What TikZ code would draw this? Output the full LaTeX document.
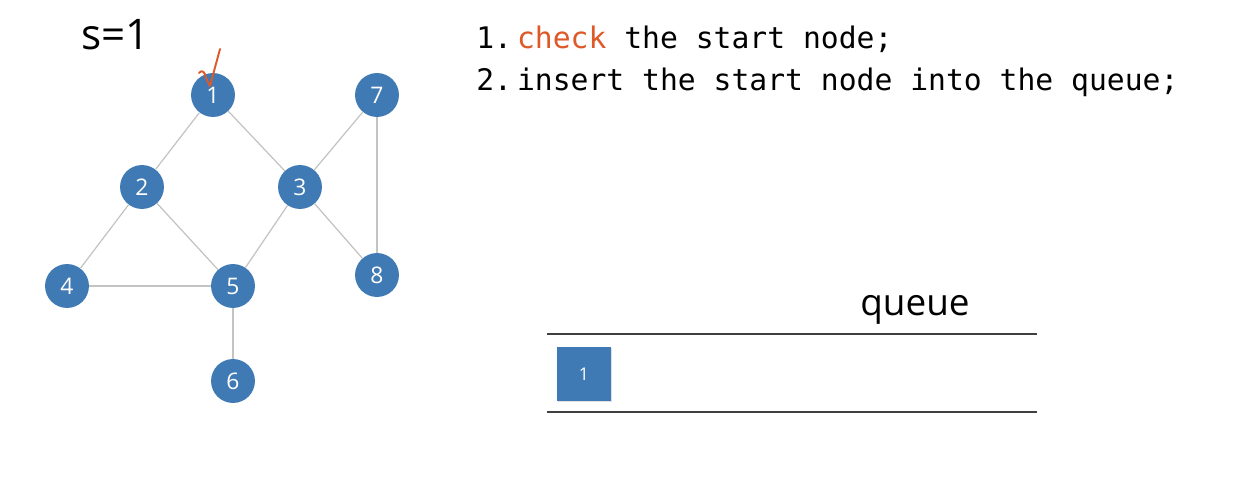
\documentclass[tikz,border=0pt]{standalone}
\usepackage{fontspec}
\setmainfont{Open Sans}
\setmonofont{DejaVu Sans Mono}
\usepackage{tikz}
\usetikzlibrary{positioning,shadows}

\definecolor{nodeblue}{RGB}{63,122,181}
\definecolor{edgegray}{RGB}{195,195,195}
\definecolor{checkred}{RGB}{222,88,40}

\begin{document}
\begin{tikzpicture}[x=0.02cm,y=-0.02cm,every edge/.style={draw=edgegray,line width=0.7pt},
  vertex/.style={circle,fill=nodeblue,draw=none,text=white,minimum size=25pt,inner sep=0pt,font=\fontsize{13}{13}\selectfont},
  qitem/.style={rectangle,fill=nodeblue,text=white,minimum size=30.5pt,inner sep=0pt,font=\fontsize{10}{10}\selectfont,drop shadow={opacity=0.25,shadow xshift=0.6pt,shadow yshift=-0.6pt}},
  steptext/.style={anchor=base west,inner sep=0pt,font=\ttfamily\fontsize{16.9}{18}\selectfont}]
\useasboundingbox (0,0) rectangle (1244,494);
% graph
\node[vertex] (n1) at (213,95) {1};
\node[vertex] (n7) at (377,95) {7};
\node[vertex] (n2) at (142,187) {2};
\node[vertex] (n3) at (300,187) {3};
\node[vertex] (n4) at (67,286) {4};
\node[vertex] (n5) at (233,286) {5};
\node[vertex] (n8) at (377,275) {8};
\node[vertex] (n6) at (233,381) {6};
\path (n1) edge (n2) (n1) edge (n3) (n2) edge (n4) (n2) edge (n5) (n3) edge (n5) (n3) edge (n7) (n3) edge (n8) (n7) edge (n8) (n4) edge (n5) (n5) edge (n6);
\node[anchor=base west,inner sep=0pt,font=\fontsize{24}{24}\selectfont] (start) at (81,49) {s=1};
% tick on the start node
\draw[checkred,line width=1.1pt,line cap=round,line join=round] (199,73) .. controls (202,69) and (205,72) .. (206,78) -- (210,86) -- (220,49);
% steps
\node[steptext] (step1) at (476,48) {1.\,\textcolor{checkred}{check} the start node;};
\node[steptext] (step2) at (476,90) {2.\,insert the start node into the queue;};
% queue
\node[anchor=base,inner sep=0pt,font=\fontsize{21}{21}\selectfont] (qlabel) at (915,315) {queue};
\coordinate (qtl) at (547,334);
\coordinate (qtr) at (1037,334);
\coordinate (qbl) at (547,412);
\coordinate (qbr) at (1037,412);
\draw[black!75,line width=1.1pt] (qtl) -- (qtr);
\draw[black!75,line width=1.1pt] (qbl) -- (qbr);
\node[qitem] (q1) at (584,374) {1};
\end{tikzpicture}
\end{document}
